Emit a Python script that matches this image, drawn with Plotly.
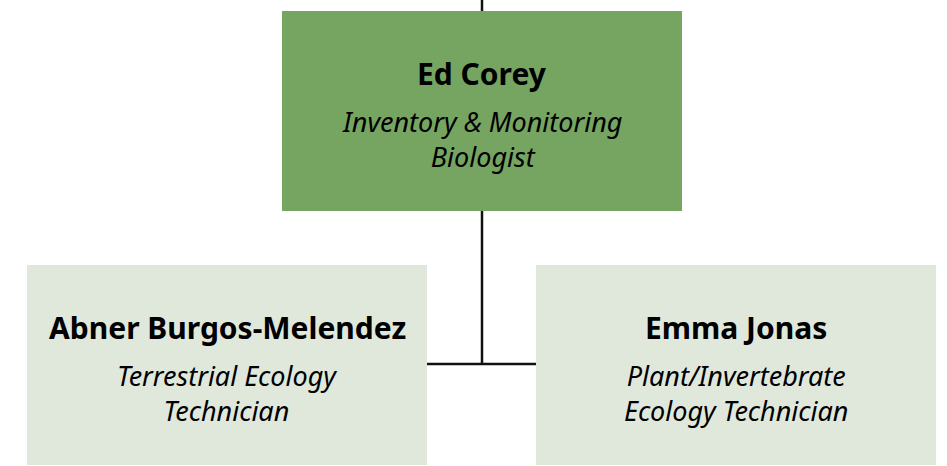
import plotly.graph_objects as go

# Data
names = ["Ed Corey", "Abner Burgos-Melendez", "Emma Jonas"]
titles = ["Inventory & Monitoring<br>Biologist",
          "Terrestrial Ecology<br>Technician",
          "Plant/Invertebrate<br>Ecology Technician"]
levels = [0, 1, 1]
parents = [None, 0, 0]

W, H = 947, 466
BOX_W, BOX_H = 400, 200
centers_x = [482, 227, 736]
tops_y = [11, 265, 265]
fills = ["#76A561", "#E0E8DC", "#E0E8DC"]
FONT = "Noto Sans"

fig = go.Figure()
shapes = []
line = dict(color="#111111", width=2.5)
shapes.append(dict(type="line", x0=482, x1=482, y0=0, y1=364, line=line))
shapes.append(dict(type="line", x0=centers_x[1] + BOX_W / 2, x1=centers_x[2] - BOX_W / 2,
                   y0=364, y1=364, line=line))
annotations = []
for i, (n, t) in enumerate(zip(names, titles)):
    cx, ty = centers_x[i], tops_y[i]
    shapes.append(dict(type="rect", x0=cx - BOX_W / 2, x1=cx + BOX_W / 2,
                       y0=ty, y1=ty + BOX_H, fillcolor=fills[i],
                       line=dict(width=0)))
    annotations.append(dict(x=cx, y=ty + 62, text="<b>" + n + "</b>", showarrow=False,
                            xanchor="center", yanchor="middle",
                            font=dict(family=FONT, size=30, color="#000000")))
    annotations.append(dict(x=cx, y=ty + 128, text="<i>" + t + "</i>", showarrow=False,
                            xanchor="center", yanchor="middle", align="center",
                            font=dict(family=FONT, size=27, color="#000000")))

fig.update_layout(
    width=W, height=H, margin=dict(l=0, r=0, t=0, b=0),
    paper_bgcolor="white", plot_bgcolor="white",
    xaxis=dict(range=[0, W], visible=False, fixedrange=True),
    yaxis=dict(range=[H, 0], visible=False, fixedrange=True),
    shapes=shapes, annotations=annotations, showlegend=False,
)
fig.write_html("out.html", config={"displayModeBar": False},
               post_script="document.body.style.margin='0';document.body.style.overflow='hidden';")
